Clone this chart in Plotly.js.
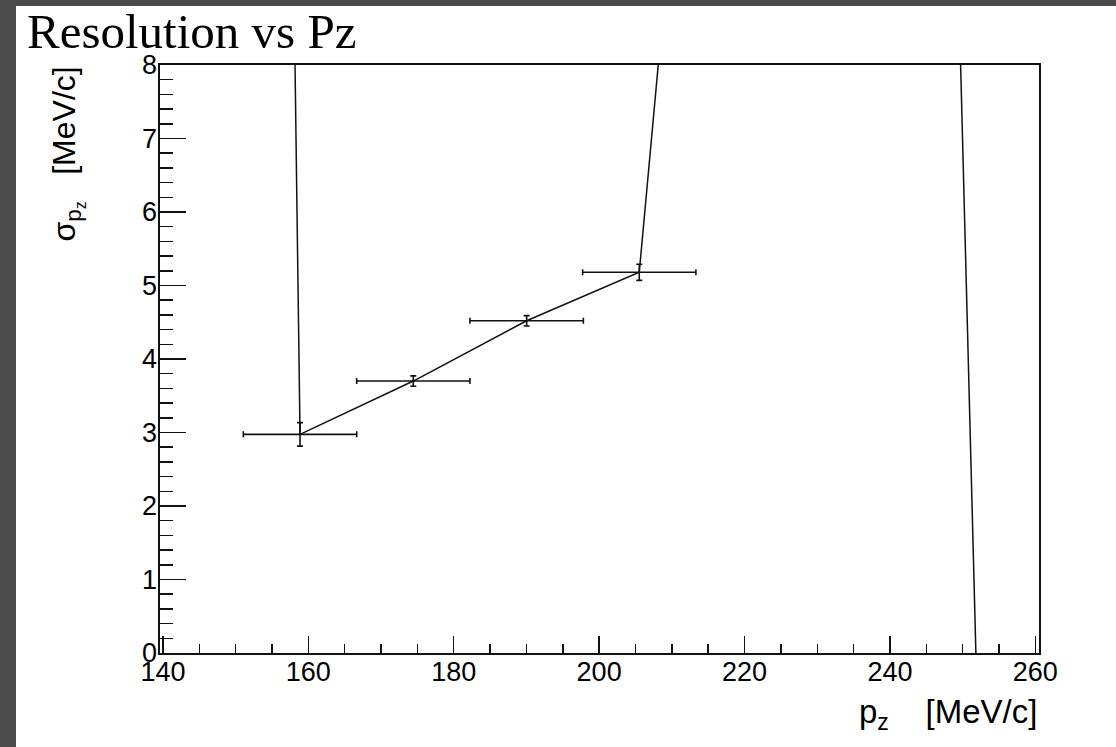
<!DOCTYPE html>
<html>
<head>
<meta charset="utf-8">
<script src="https://cdn.plot.ly/plotly-3.0.1.min.js"></script>
<style>
  html, body { margin: 0; padding: 0; background: #4b4b4c; width: 1116px; height: 747px; overflow: hidden; }
  #chart { position: absolute; left: 16px; top: 6px; width: 1100px; height: 741px; background: #fff; }
</style>
</head>
<body>
<div id="chart"></div>
<script>
// Bin centres of p_z [MeV/c] (first and last three points lie outside the shown y range)
const pz       = [143.30, 158.86, 174.44, 190.03, 205.52, 221.08, 236.64, 252.20];
const pzErr    = [7.78, 7.80, 7.79, 7.80, 7.79, 7.78, 7.78, 7.78];
// Resolution sigma(p_z) [MeV/c]
const sigma    = [116.6, 2.975, 3.70, 4.52, 5.18, 22.0, 57.8, -1.45];
const sigmaErr = [0, 0.16, 0.07, 0.07, 0.11, 0, 0, 0];

const xTicks = [140, 160, 180, 200, 220, 240, 260];
const yTicks = [0, 1, 2, 3, 4, 5, 6, 7, 8];

const titleText = 'Resolution vs Pz';
const xTitle = 'p<sub>z</sub>    [MeV/c]';
const yTitle = '\u03c3<sub>p<sub>z</sub></sub>   [MeV/c]';

const ink = '#111';
const tickFont = { family: 'Liberation Sans, Arial, Helvetica, sans-serif', size: 27, color: '#000' };

const trace = {
  type: 'scatter',
  mode: 'lines',
  x: pz,
  y: sigma,
  line: { color: ink, width: 1.5 },
  error_x: { type: 'data', array: pzErr, visible: true, color: ink, thickness: 1.6, width: 3 },
  error_y: { type: 'data', array: sigmaErr, visible: true, color: ink, thickness: 1.6, width: 3 },
  hoverinfo: 'x+y'
};

const layout = {
  width: 1100,
  height: 741,
  margin: { l: 144, r: 77, t: 59, b: 94 },
  paper_bgcolor: '#ffffff',
  plot_bgcolor: '#ffffff',
  showlegend: false,
  title: {
    text: titleText,
    font: { family: 'Liberation Serif, Times New Roman, serif', size: 49, color: '#000' },
    xref: 'container', x: 0.01, xanchor: 'left',
    yref: 'container', y: 0.9433, yanchor: 'bottom'
  },
  xaxis: {
    range: [139.6, 260.5],
    tickvals: xTicks,
    ticktext: xTicks.map(String),
    ticks: 'inside', ticklen: 17, tickwidth: 1.5, tickcolor: ink,
    minor: { ticks: 'inside', ticklen: 9, dtick: 5, tick0: 140, tickwidth: 1.5, tickcolor: ink, showgrid: false },
    showline: true, linecolor: ink, linewidth: 1.6, mirror: true,
    showgrid: false, zeroline: false,
    tickfont: tickFont,
    ticklabelstandoff: -6
  },
  yaxis: {
    range: [0, 8],
    tickvals: yTicks,
    ticktext: yTicks.map(String),
    ticks: 'inside', ticklen: 26, tickwidth: 1.5, tickcolor: ink,
    minor: { ticks: 'inside', ticklen: 13, dtick: 0.2, tick0: 0, tickwidth: 1.5, tickcolor: ink, showgrid: false },
    showline: true, linecolor: ink, linewidth: 1.6, mirror: true,
    showgrid: false, zeroline: false,
    tickfont: tickFont,
    ticklabelstandoff: -4
  },
  annotations: [
    {
      text: xTitle, showarrow: false,
      xref: 'paper', yref: 'paper', x: 1.0, y: -0.0646, xanchor: 'right', yanchor: 'top',
      font: { family: 'Liberation Sans, Arial, Helvetica, sans-serif', size: 33, color: '#000' }
    },
    {
      text: yTitle, showarrow: false, textangle: -90,
      xref: 'paper', yref: 'paper', x: -0.1058, y: 1.0, xanchor: 'center', yanchor: 'top',
      font: { family: 'Liberation Sans, Arial, Helvetica, sans-serif', size: 32, color: '#000' }
    }
  ]
};

Plotly.newPlot('chart', [trace], layout, { displayModeBar: false, staticPlot: true });
</script>
</body>
</html>
